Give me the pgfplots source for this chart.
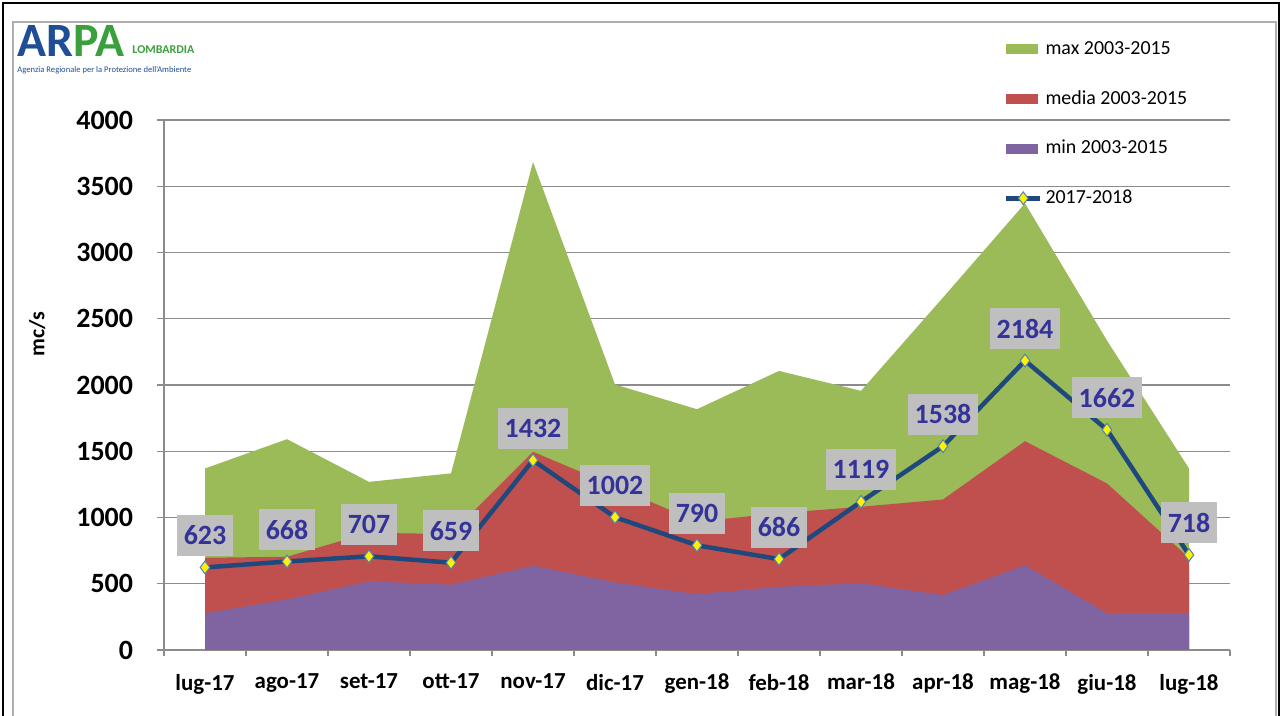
\documentclass[border=0pt]{standalone}
\usepackage{pgfplots}
\pgfplotsset{compat=1.18}
\usepackage{fontspec}
\setmainfont{Carlito}

\definecolor{maxgreen}{HTML}{9BBB59}
\definecolor{medred}{HTML}{C0504D}
\definecolor{minpurple}{HTML}{8064A2}
\definecolor{linblue}{HTML}{1F497D}
\definecolor{mkblue}{HTML}{4F81BD}
\definecolor{lblgray}{HTML}{BFBFBF}
\definecolor{lbltext}{HTML}{333399}
\definecolor{gridgray}{HTML}{8C8C8C}
\definecolor{arpablue}{HTML}{1F4E96}
\definecolor{arpagreen}{HTML}{3AA03C}

\begin{document}
\begin{tikzpicture}
\useasboundingbox (0,0) rectangle (641bp,358bp);
% chart frame
\draw[gridgray!70, line width=0.6bp] (6.5bp,-2bp) -- (6.5bp,347bp) -- (638bp,347bp) -- (638bp,-2bp);
\draw[black, line width=1.2bp] (1.5bp,-2bp) -- (1.5bp,356.6bp) -- (639.5bp,356.6bp) -- (639.5bp,-2bp);
% logo
\node[anchor=west, inner sep=0pt, font=\bfseries\fontsize{24}{24}\selectfont] at (8.5bp,337.5bp)
  {\textcolor{arpablue}{AR}\textcolor{arpagreen}{PA}};
\node[anchor=west, inner sep=0pt, text=arpagreen, font=\bfseries\fontsize{6}{6}\selectfont] at (66bp,333bp) {LOMBARDIA};
\node[anchor=west, inner sep=0pt, text=arpablue, font=\fontsize{4.3}{4.3}\selectfont] at (8.5bp,323bp)
  {Agenzia Regionale per la Protezione dell'Ambiente};

\begin{axis}[
  at={(82bp,33bp)}, anchor=south west,
  scale only axis, width=533bp, height=265bp,
  xmin=-0.5, xmax=12.5, ymin=0, ymax=4000,
  axis x line*=bottom, axis y line*=left,
  axis line style={gridgray, line width=0.7bp, -},
  xtick={0,...,12},
  xticklabels={lug-17,ago-17,set-17,ott-17,nov-17,dic-17,gen-18,feb-18,mar-18,apr-18,mag-18,giu-18,lug-18},
  major x tick style={draw=none},
  minor xtick={-0.5,0.5,...,12.5},
  minor tick length=3bp, major tick length=3.5bp, tick align=outside,
  tick style={gridgray, line width=0.7bp},
  ytick={0,500,...,4000},
  ymajorgrids, grid style={gridgray, line width=0.7bp},
  scaled y ticks=false,
  /pgf/number format/assume math mode=true,
  /pgf/number format/1000 sep={},
  yticklabel style={font=\bfseries\fontsize{14}{14}\selectfont, xshift=-8.5bp},
  xticklabel style={font=\bfseries\fontsize{11.5}{11.5}\selectfont, yshift=-5bp},
  ylabel={mc/s},
  every axis y label/.style={at={(axis description cs:-0.119,0.596)}, rotate=90, anchor=center,
    font=\bfseries\fontsize{11}{11}\selectfont},
  legend cell align=left,
  legend style={at={(0.782,1.162)}, anchor=north west, draw=none, fill=none,
    font=\fontsize{10}{12}\selectfont, row sep=13.5bp, nodes={inner sep=1.5bp}},
]
\addplot[fill=maxgreen, draw=none, area legend,
  legend image code/.code={\fill[maxgreen] (0bp,-2.5bp) rectangle (16bp,2.5bp);}]
  coordinates {(0,1370)(1,1591)(2,1269)(3,1333)(4,3683)(5,2004)(6,1817)(7,2106)(8,1956)(9,2660)(10,3371)(11,2335)(12,1370)} \closedcycle;
\addlegendentry{max 2003-2015}
\addplot[fill=medred, draw=none, area legend,
  legend image code/.code={\fill[medred] (0bp,-2.5bp) rectangle (16bp,2.5bp);}]
  coordinates {(0,696)(1,704)(2,885)(3,875)(4,1496)(5,1235)(6,968)(7,1033)(8,1081)(9,1136)(10,1576)(11,1257)(12,696)} \closedcycle;
\addlegendentry{media 2003-2015}
\addplot[fill=minpurple, draw=none, area legend,
  legend image code/.code={\fill[minpurple] (0bp,-2.5bp) rectangle (16bp,2.5bp);}]
  coordinates {(0,277)(1,382)(2,518)(3,493)(4,636)(5,510)(6,422)(7,477)(8,503)(9,415)(10,639)(11,277)(12,277)} \closedcycle;
\addlegendentry{min 2003-2015}
\addplot[linblue, line width=2.25bp, mark=diamond*, mark size=3.2bp,
  mark options={fill=yellow, draw=mkblue, line width=0.5bp},
  nodes near coords,
  every node near coord/.append style={anchor=south, yshift=5.5bp, fill=lblgray, text=lbltext,
    font=\bfseries\fontsize{14}{14}\selectfont, inner xsep=3.5bp, inner ysep=0pt,
    minimum height=20.5bp}]
  coordinates {(0,623)(1,668)(2,707)(3,659)(4,1432)(5,1002)(6,790)(7,686)(8,1119)(9,1538)(10,2184)(11,1662)(12,718)};
\addlegendentry{2017-2018}
\end{axis}
\end{tikzpicture}
\end{document}
